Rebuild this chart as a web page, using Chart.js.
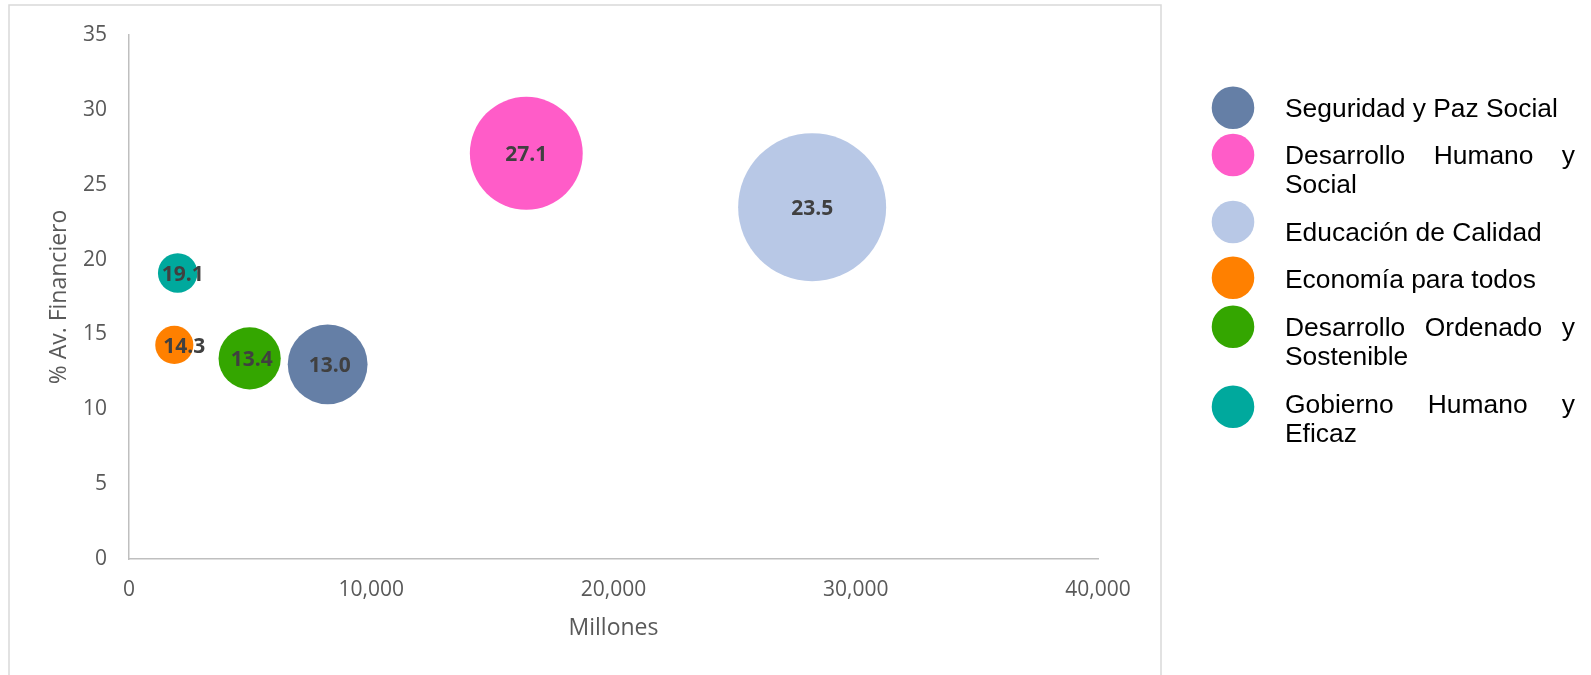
<!DOCTYPE html>
<html>
<head>
<meta charset="utf-8">
<script src="https://cdn.jsdelivr.net/npm/chart.js@4.4.1/dist/chart.umd.min.js"></script>
<style>
  html, body { margin: 0; padding: 0; background: #ffffff; }
  #wrap { width: 1591px; height: 675px; position: relative; }
</style>
</head>
<body>
<div id="wrap"><canvas id="c" width="1591" height="675"></canvas></div>
<script>
// ---------- DATA ----------
const seriesNames = [
  'Seguridad y Paz Social',
  'Desarrollo Humano y Social',
  'Educación de Calidad',
  'Economía para todos',
  'Desarrollo Ordenado y Sostenible',
  'Gobierno Humano y Eficaz'
];
const budgetMillones = [8200, 16400, 28200, 1870, 4980, 2010];   // x values
const avanceFinanciero = [13.0, 27.1, 23.5, 14.3, 13.4, 19.1];    // y values (%)
const bubbleSizes = [8200, 16400, 28200, 1870, 4980, 2010];       // bubble size values
const seriesColors = ['#657FA6', '#FF5CC8', '#B8C8E6', '#FF8000', '#34A600', '#00A99D'];
const xTickStep = 10000;
const yTickStep = 5;

// ---------- LAYOUT (styles / positions) ----------
const MAX_BUBBLE_R = 74;
const maxSize = Math.max(...bubbleSizes);

const datasets = seriesNames.map((name, i) => ({
  label: name,
  data: [{ x: budgetMillones[i], y: avanceFinanciero[i], r: MAX_BUBBLE_R * Math.sqrt(bubbleSizes[i] / maxSize) }],
  backgroundColor: seriesColors[i],
  borderWidth: 0,
  hoverBorderWidth: 0
}));

// frame around the chart area (Excel chart border)
const framePlugin = {
  id: 'frame',
  beforeDraw(chart) {
    const ctx = chart.ctx;
    ctx.save();
    ctx.fillStyle = '#ffffff';
    ctx.fillRect(0, 0, chart.width, chart.height);
    ctx.strokeStyle = '#D9D9D9';
    ctx.lineWidth = 1.5;
    ctx.strokeRect(9, 5, 1152, 720);
    ctx.restore();
  }
};

// data labels centred on bubbles
const labelNudge = [2, 0, 0, 10, 2, 5];
const dataLabelPlugin = {
  id: 'bubbleLabels',
  afterDatasetsDraw(chart) {
    const ctx = chart.ctx;
    ctx.save();
    ctx.font = 'bold 21px "Open Sans"';
    ctx.fillStyle = '#404040';
    ctx.textAlign = 'center';
    ctx.textBaseline = 'middle';
    chart.data.datasets.forEach((ds, i) => {
      const meta = chart.getDatasetMeta(i);
      meta.data.forEach((el, j) => {
        const v = ds.data[j].y;
        ctx.fillText(v.toFixed(1), el.x + labelNudge[i], el.y + 2);
      });
    });
    ctx.restore();
  }
};

// custom legend with justified wrapped text (Excel style)
const legendMarkerY = [107.7, 155, 222, 277.7, 326.7, 406.7];
const legendTextY = [110, 156.7, 233.3, 280.7, 328.3, 405.7];
const legendPlugin = {
  id: 'customLegend',
  afterDraw(chart) {
    const ctx = chart.ctx;
    const markerX = 1233, markerR = 21.3;
    const textX = 1285, textW = 290, lineH = 29.5;
    ctx.save();
    ctx.font = '26.4px "Liberation Sans", Arial, sans-serif';
    ctx.textBaseline = 'middle';
    ctx.textAlign = 'left';
    chart.data.datasets.forEach((ds, i) => {
      ctx.fillStyle = ds.backgroundColor;
      ctx.beginPath();
      ctx.arc(markerX, legendMarkerY[i], markerR, 0, Math.PI * 2);
      ctx.fill();
      // wrap words
      const words = ds.label.split(' ');
      const lines = [];
      let cur = [];
      words.forEach(w => {
        const test = cur.concat([w]).join(' ');
        if (ctx.measureText(test).width > textW && cur.length) {
          lines.push(cur);
          cur = [w];
        } else {
          cur.push(w);
        }
      });
      if (cur.length) lines.push(cur);
      ctx.fillStyle = '#000000';
      lines.forEach((lw, li) => {
        const y = legendTextY[i] + li * lineH;
        const isLast = li === lines.length - 1;
        if (isLast || lw.length === 1) {
          ctx.fillText(lw.join(' '), textX, y);
        } else {
          const wordsW = lw.reduce((s, w) => s + ctx.measureText(w).width, 0);
          const gap = (textW - wordsW) / (lw.length - 1);
          let x = textX;
          lw.forEach(w => {
            ctx.fillText(w, x, y);
            x += ctx.measureText(w).width + gap;
          });
        }
      });
    });
    ctx.restore();
  }
};

new Chart(document.getElementById('c'), {
  type: 'bubble',
  data: { datasets },
  plugins: [framePlugin, dataLabelPlugin, legendPlugin],
  options: {
    responsive: false,
    animation: false,
    devicePixelRatio: 1,
    layout: { autoPadding: false, padding: { left: 0, top: 35, right: 493, bottom: 0 } },
    plugins: {
      legend: { display: false },
      tooltip: { enabled: false }
    },
    scales: {
      x: {
        type: 'linear',
        min: 0,
        max: 40000,
        grid: { display: false, drawTicks: false },
        border: { display: true, color: '#BFBFBF', width: 1.5 },
        ticks: {
          stepSize: xTickStep,
          color: '#595959',
          font: { family: '"Open Sans"', size: 21 },
          padding: 18,
          callback: v => Number(v).toLocaleString('en-US')
        },
        title: {
          display: true,
          text: 'Millones',
          color: '#595959',
          font: { family: '"Open Sans"', size: 23 },
          padding: { top: 0, bottom: 33 }
        },
        afterFit(scale) { scale.height = 116; }
      },
      y: {
        type: 'linear',
        min: 0,
        max: 35,
        grid: { display: false, drawTicks: false },
        border: { display: true, color: '#BFBFBF', width: 1.5 },
        ticks: {
          stepSize: yTickStep,
          color: '#595959',
          font: { family: '"Open Sans"', size: 21 },
          padding: 22
        },
        title: {
          display: true,
          text: '% Av. Financiero',
          color: '#595959',
          font: { family: '"Open Sans"', size: 23 },
          padding: { top: 46, bottom: 0 }
        },
        afterFit(scale) { scale.width = 129; }
      }
    }
  }
});
</script>
</body>
</html>
